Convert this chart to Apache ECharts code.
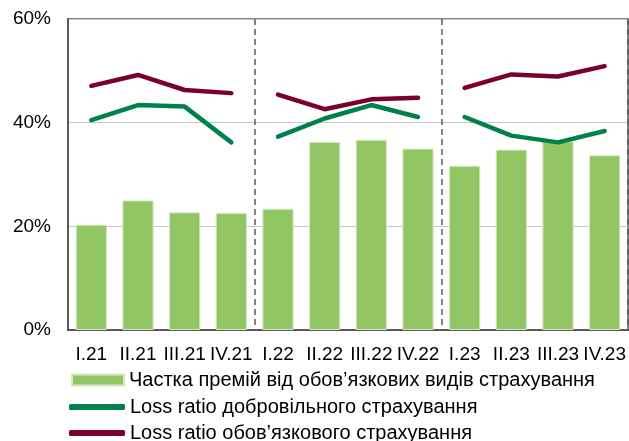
<!DOCTYPE html>
<html><head><meta charset="utf-8">
<script src="https://cdn.jsdelivr.net/npm/echarts@6/dist/echarts.min.js"></script>
<style>html,body{margin:0;padding:0;background:#fff}#c{width:629px;height:441px}</style>
</head><body><div id="c"></div>
<script>
const categories = ['I.21','II.21','III.21','IV.21','I.22','II.22','III.22','IV.22','I.23','II.23','III.23','IV.23'];
const mandatoryShare = [20.3, 25.0, 22.7, 22.6, 23.4, 36.3, 36.7, 35.0, 31.7, 34.8, 36.4, 33.7];
const lossVoluntary = [40.5, 43.4, 43.1, 36.2, 37.3, 40.8, 43.4, 41.1, 41.1, 37.5, 36.2, 38.4];
const lossMandatory = [47.1, 49.2, 46.3, 45.7, 45.4, 42.6, 44.5, 44.8, 46.7, 49.3, 48.9, 50.9];
const yTicks = [0, 20, 40, 60];
const names = ['Частка премій від обов’язкових видів страхування', 'Loss ratio добровільного страхування', 'Loss ratio обов’язкового страхування'];
const colBar = '#92c665', colGreen = '#00804a', colRed = '#7a0032';
const FONT = 'Liberation Sans, Arial, sans-serif';

function yearSeries(arr, name, color){
  const out = [];
  for (let y = 0; y < 3; y++) {
    out.push({
      type:'line', name:name, symbol:'none', z:5,
      data: arr.map((v,i)=> Math.floor(i/4)===y ? v : null),
      lineStyle:{color:color, width:4.5, cap:'round', join:'round'},
      itemStyle:{color:color}
    });
  }
  return out;
}
const chart = echarts.init(document.getElementById('c'));
chart.setOption({
  animation:false,
  textStyle:{fontFamily:FONT},
  grid:{left:68, top:19, right:1, bottom:111, show:true, borderColor:'#595959', borderWidth:1.5},
  xAxis:{type:'category', data:categories, boundaryGap:true,
    axisLine:{lineStyle:{color:'#595959', width:2}},
    axisTick:{inside:true, length:5, lineStyle:{color:'#595959', width:1.5}},
    axisLabel:{color:'#000', fontSize:19, margin:15, fontFamily:FONT, interval:0},
    splitLine:{show:true, interval:(i)=> i===4 || i===8, lineStyle:{color:'#595959', type:[6,4], width:1.5}}
  },
  yAxis:{type:'value', min:yTicks[0], max:yTicks[yTicks.length-1], interval:20,
    axisLine:{show:true, lineStyle:{color:'#595959', width:2}},
    axisTick:{show:false},
    axisLabel:{color:'#000', fontSize:19, margin:17, fontFamily:FONT, formatter:'{value}%'},
    splitLine:{lineStyle:{color:'#c8c8c8', width:1}}
  },
  legend:[
    {data:[{name:names[0], icon:'rect'}], orient:'vertical', left:71, top:370, padding:0, itemWidth:52, itemHeight:11,
      textStyle:{fontSize:20, color:'#000', fontFamily:FONT}},
    {data:[{name:names[1], icon:'roundRect'}], orient:'vertical', left:69, top:397, padding:0, itemWidth:56, itemHeight:6,
      textStyle:{fontSize:20, color:'#000', fontFamily:FONT}, itemStyle:{color:colGreen}},
    {data:[{name:names[2], icon:'roundRect'}], orient:'vertical', left:69, top:423, padding:0, itemWidth:56, itemHeight:6,
      textStyle:{fontSize:20, color:'#000', fontFamily:FONT}, itemStyle:{color:colRed}}
  ],
  series:[
    {type:'bar', name:names[0], data:mandatoryShare, barCategoryGap:'33%', z:2,
      itemStyle:{color:colBar, borderColor:'#d6ebc4', borderWidth:1}},
    ...yearSeries(lossVoluntary, names[1], colGreen),
    ...yearSeries(lossMandatory, names[2], colRed)
  ]
});
</script></body></html>
